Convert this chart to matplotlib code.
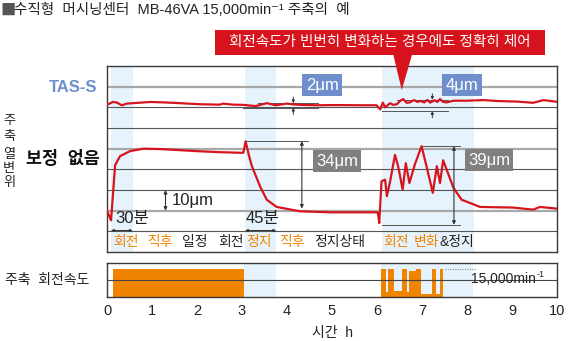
import matplotlib
matplotlib.use("Agg")
import matplotlib.pyplot as plt
from matplotlib.patches import Rectangle, Polygon

plt.rcParams['font.family'] = ['Liberation Sans', 'Noto Sans CJK KR', 'DejaVu Sans']

# ---------------- data ----------------
tas_t = [0.0, 0.03, 0.13, 0.22, 0.33, 0.44, 0.7, 0.96, 1.25, 1.55, 1.8, 2.07, 2.3, 2.51, 2.58, 2.8,
         3.03, 3.3, 3.55, 3.75, 4.0, 4.14, 4.3, 4.66, 5.1, 5.62, 5.99, 6.07, 6.13, 6.18, 6.29,
         6.36, 6.44, 6.52, 6.58, 6.66, 6.73, 6.82, 6.90, 6.96, 7.05, 7.12, 7.18, 7.28, 7.34, 7.40,
         7.47, 7.55, 7.70, 7.99, 8.36, 8.73, 9.1, 9.47, 9.7, 9.99]
tas_v = [51.5, 51.5, 52.6, 52.3, 51.0, 51.8, 52.2, 52.6, 52.4, 52.1, 51.8, 51.5, 51.4, 51.3, 51.8, 51.3,
         51.2, 50.6, 52.0, 51.0, 51.8, 51.4, 51.2, 51.0, 51.1, 51.0, 51.0, 49.0, 52.3, 50.0, 52.0,
         51.2, 51.5, 53.2, 54.0, 52.2, 52.4, 53.5, 52.6, 53.1, 52.4, 53.6, 52.3, 53.4, 52.6, 54.0,
         52.6, 52.4, 53.2, 53.2, 53.5, 53.0, 52.8, 52.2, 53.5, 52.7]

raw_t = [0.0, 0.09, 0.18, 0.29, 0.51, 0.81, 1.2, 1.6, 2.0, 2.5, 3.0, 3.03, 3.08, 3.15, 3.22, 3.4,
         3.55, 3.77, 4.29, 4.96, 5.5, 5.99, 6.02, 6.05, 6.1, 6.18, 6.22, 6.29, 6.4, 6.47, 6.57,
         6.64, 6.72, 6.84, 6.99, 7.1, 7.24, 7.33, 7.4, 7.47, 7.7, 7.88, 8.29, 9.02, 9.47, 9.62, 9.99]
raw_v = [0.0, -4.7, 22.0, 26.4, 28.8, 30.0, 29.8, 29.3, 28.8, 28.3, 28.0, 28.0, 33.6, 27.0, 21.5, 11.8,
         5.3, 1.8, -0.3, -0.8, -0.8, -0.8, -1.0, -6.0, 14.2, 15.0, 7.0, 14.0, 27.0, 21.5, 10.2,
         23.0, 13.4, 22.3, 31.2, 21.5, 8.6, 21.5, 13.4, 24.4, 11.0, 5.3, 1.8, 1.5, 0.5, 1.8, 1.0]

speed_t = [0.0, 0.13, 3.05, 6.08, 6.20, 6.24, 6.37, 6.55, 6.66, 6.70, 6.86, 6.97, 7.22, 7.30, 7.40, 7.47, 10.0]
speed_v = [0, 15000, 0, 15000, 2500, 15000, 3300, 15000, 2500, 14000, 15000, 1900, 15000, 1900, 15000, 0, 0]

bands_upper = [(0.09, 0.57), (3.07, 3.76), (6.10, 8.16)]
bands_lower = [(3.05, 3.76), (6.08, 8.14)]
xticks = list(range(0, 11))

RED = '#d7141d'
BLUE = '#6f8fcc'
GRAY = '#808080'
ORANGE = '#f08300'
BAND = '#e6f3fc'
DARK = '#3a3a3a'

fig = plt.figure(figsize=(5.72, 3.41), dpi=100)
W, H = 572.0, 341.0
ax = fig.add_axes([107 / W, 1 - 252 / H, 450 / W, 186 / H])
ax2 = fig.add_axes([107 / W, 1 - 297 / H, 450 / W, 34 / H])

# ---------------- upper panel ----------------
ax.set_xlim(0, 10)
ax.set_ylim(-20, 70)
for a, b in bands_upper:
    ax.axvspan(a, b, color=BAND, lw=0, zorder=0)
for y in [0, 30, 60]:
    ax.axhline(y, color='#a8a8a8', lw=1.6, zorder=1)
for y in [-10, 10, 20, 40, 50]:
    ax.axhline(y, color='#555555', lw=0.8, zorder=1)
ax.plot(tas_t, tas_v, color=RED, lw=1.6, zorder=4)
ax.plot(raw_t, raw_v, color=RED, lw=1.6, zorder=4)
ax.set_xticks([])
ax.set_yticks([])
for s in ax.spines.values():
    s.set_color(DARK)
    s.set_linewidth(1.0)

def darrow(x0, y0, x1, y1, lw=0.8, ms=5):
    ax.annotate('', xy=(x1, y1), xytext=(x0, y0),
                arrowprops=dict(arrowstyle='<|-|>', color='#333333', lw=lw,
                                mutation_scale=ms, shrinkA=0, shrinkB=0), zorder=6)

def sarrow(x, y_from, y_to):
    ax.annotate('', xy=(x, y_to), xytext=(x, y_from),
                arrowprops=dict(arrowstyle='-|>', color='#333', lw=0.7, mutation_scale=4,
                                shrinkA=0, shrinkB=0))

# TAS-S 2um / 4um marks
ax.plot([3.36, 4.69], [52.0, 52.0], color='#555555', lw=0.7, zorder=3)
ax.plot([3.03, 4.69], [49.8, 49.8], color='#555555', lw=0.7, zorder=3)
sarrow(4.14, 55.0, 52.0)
sarrow(4.14, 46.6, 49.8)
ax.plot([6.44, 7.58], [53.6, 53.6], color='#555555', lw=0.7, zorder=3)
ax.plot([6.10, 7.58], [48.2, 48.2], color='#555555', lw=0.7, zorder=3)
sarrow(7.23, 56.5, 53.6)
sarrow(7.23, 45.0, 48.2)

box_kw = dict(fontsize=12, color='white', ha='center', va='center', zorder=7)
ax.text(4.78, 60.8, '2μm', bbox=dict(boxstyle='square,pad=0.2', fc=BLUE, ec='none'), **box_kw)
ax.text(7.89, 60.8, '4μm', bbox=dict(boxstyle='square,pad=0.2', fc=BLUE, ec='none'), **box_kw)

# 10um
darrow(1.30, 0, 1.30, 10)
ax.text(1.44, 5, '10μm', fontsize=12, va='center', ha='left', color='#222')

# 34um
ax.plot([3.09, 4.47], [33.6, 33.6], color='#555555', lw=0.7, zorder=3)
darrow(4.33, 33.6, 4.33, 1.0)
ax.text(5.11, 24.0, '34μm', bbox=dict(boxstyle='square,pad=0.2', fc=GRAY, ec='none'), **box_kw)

# 39um
ax.plot([6.99, 7.84], [31.2, 31.2], color='#555555', lw=0.7, zorder=3)
ax.plot([6.10, 7.84], [-6.8, -6.8], color='#555555', lw=0.7, zorder=3)
darrow(7.71, 31.2, 7.71, -6.8)
ax.text(8.49, 24.5, '39μm', bbox=dict(boxstyle='square,pad=0.2', fc=GRAY, ec='none'), **box_kw)

# durations
ax.text(0.18, -3.6, '30분', fontsize=12, va='center', ha='left', color='#222')
ax.text(3.07, -3.6, '45분', fontsize=12, va='center', ha='left', color='#222')
darrow(0.09, -9.6, 0.57, -9.6, lw=0.7, ms=4)
darrow(3.07, -9.6, 3.76, -9.6, lw=0.7, ms=4)

# label row
row_y = -15.4
lab = [(0.13, '회전', ORANGE), (0.89, '직후', ORANGE), (1.67, '일정', '#222'), (2.47, '회전', '#222'),
       (3.09, '정지', ORANGE), (3.83, '직후', ORANGE), (4.6, '정지상태', '#222'),
       (6.13, '회전', ORANGE), (6.82, '변화', ORANGE)]
for x, s, c in lab:
    ax.text(x, row_y, s, fontsize=10, color=c, va='center', ha='left')
ax.text(7.38, row_y, '&정지', fontsize=10, color='#222', va='center', ha='left')

# callout
ax.add_patch(Rectangle((2.4, 75.3), 7.33, 12.1, fc=RED, ec='none', clip_on=False, zorder=8))
ax.add_patch(Polygon([(6.36, 75.6), (6.78, 75.6), (6.55, 58.4)], closed=True, fc=RED, ec='none',
                     clip_on=False, zorder=8))
ax.text(6.07, 81.4, '회전속도가 빈번히 변화하는 경우에도 정확히 제어', fontsize=10.5, color='white',
        ha='center', va='center', zorder=9, clip_on=False)

# ---------------- lower panel ----------------
ax2.set_xlim(0, 10)
ax2.set_ylim(0, 18500)
for a, b in bands_lower:
    ax2.axvspan(a, b, color=BAND, lw=0, zorder=0)
ax2.fill_between(speed_t, speed_v, step='post', color=ORANGE, lw=0, zorder=2)
ax2.axhline(9250, color='#444444', lw=0.8, zorder=3)
ax2.plot([7.5, 8.2], [15000, 15000], color='#888888', lw=0.8, ls=(0, (1, 1.2)), zorder=3)
t15 = ax2.text(8.1, 9700, '15,000min', fontsize=10, va='center', ha='left', color='#222', zorder=4)
ax2.annotate('-1', xy=(1.0, 0.8), xycoords=t15, xytext=(0.5, 0), textcoords='offset points',
             fontsize=6.5, va='center', ha='left', color='#222', zorder=4)
ax2.set_yticks([])
ax2.set_xticks(xticks)
ax2.set_xticklabels([str(t) for t in xticks], fontsize=10.5, color='#222')
ax2.tick_params(axis='x', length=0, pad=5)
for s in ax2.spines.values():
    s.set_color(DARK)
    s.set_linewidth(1.0)
ax2.set_xlabel('시간  h', fontsize=10, color='#222', labelpad=6)

# ---------------- side / title texts ----------------
fig.text(0 / W, 1 - 10 / H, '■', fontsize=11, color='#555555', va='center', ha='left',
         family=['Noto Sans CJK KR', 'DejaVu Sans'])
fig.text(14 / W, 1 - 10 / H, '수직형  머시닝센터  MB-46VA 15,000min⁻¹ 주축의  예', fontsize=10.5,
         color='#222', va='center', ha='left')
fig.text(97 / W, 1 - 87 / H, 'TAS-S', fontsize=12, color=BLUE, fontweight='bold', va='center', ha='right')
fig.text(100 / W, 1 - 158 / H, '보정  없음', fontsize=12.5, color='#111', fontweight='bold',
         va='center', ha='right')
for yy, ch in [(121, '주'), (137, '축'), (155, '열'), (169, '변'), (183, '위')]:
    fig.text(9 / W, 1 - yy / H, ch, fontsize=9.5, color='#222', va='center', ha='center')
fig.text(5 / W, 1 - 280 / H, '주축  회전속도', fontsize=10, color='#222', va='center', ha='left')

fig.savefig('out.png', dpi=100)
